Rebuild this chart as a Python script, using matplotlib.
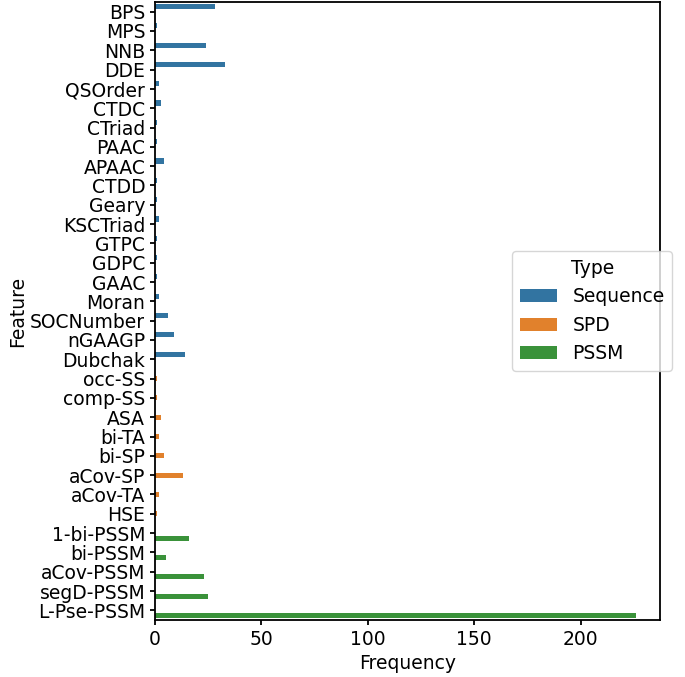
import pandas as pd
import seaborn as sns
import matplotlib
matplotlib.use("Agg")
import matplotlib.pyplot as plt

# feature groups and how often each was selected
seq_features = ["BPS", "MPS", "NNB", "DDE", "QSOrder", "CTDC", "CTriad", "PAAC",
                "APAAC", "CTDD", "Geary", "KSCTriad", "GTPC", "GDPC", "GAAC",
                "Moran", "SOCNumber", "nGAAGP", "Dubchak"]
seq_freq = [28, 1, 24, 33, 2, 3, 1, 1, 4, 1, 1, 2, 1, 1, 1, 2, 6, 9, 14]

spd_features = ["occ-SS", "comp-SS", "ASA", "bi-TA", "bi-SP", "aCov-SP",
                "aCov-TA", "HSE"]
spd_freq = [1, 1, 3, 2, 4, 13, 2, 1]

pssm_features = ["1-bi-PSSM", "bi-PSSM", "aCov-PSSM", "segD-PSSM", "L-Pse-PSSM"]
pssm_freq = [16, 5, 23, 25, 226]

df = pd.DataFrame({
    "Feature": seq_features + spd_features + pssm_features,
    "Frequency": seq_freq + spd_freq + pssm_freq,
    "Type": ["Sequence"] * len(seq_features) + ["SPD"] * len(spd_features)
            + ["PSSM"] * len(pssm_features),
})

plt.rcParams["font.size"] = 13.5
plt.rcParams["axes.linewidth"] = 1.3
plt.rcParams["ytick.major.width"] = 1.3
plt.rcParams["xtick.major.width"] = 1.3
fig = plt.figure(figsize=(6.85, 6.77), dpi=100)
ax = fig.add_axes([155 / 685, 1 - 620 / 677, 505 / 685, 618 / 677])
sns.barplot(data=df, x="Frequency", y="Feature", hue="Type", dodge=True, ax=ax)
# legend sits a bit past the right spine in the original
ax.legend(title="Type", loc="center left",
          bbox_to_anchor=((503 - 155) / 505, 0.50))
ax.set_xlabel("Frequency")
ax.set_ylabel("Feature", labelpad=2)

fig.savefig("out.png", dpi=100)
